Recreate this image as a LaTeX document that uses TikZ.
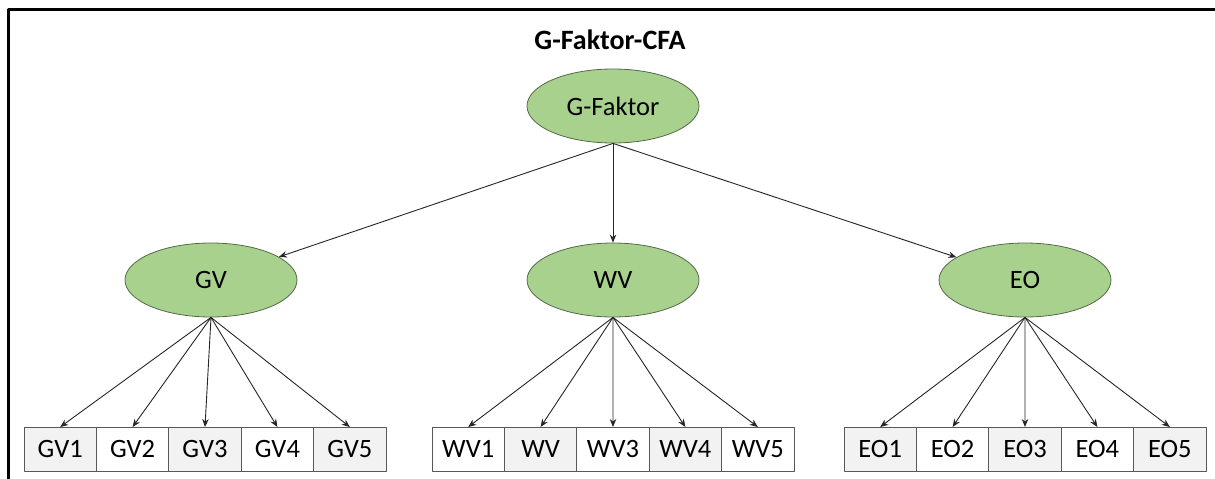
\documentclass[tikz,border=0pt]{standalone}
\usepackage{fontspec}
\setmainfont{Carlito}
\usetikzlibrary{positioning,shapes.geometric,arrows.meta}
\definecolor{faktorgreen}{RGB}{169,209,142}
\definecolor{faktorline}{RGB}{84,104,72}
\definecolor{itemgray}{RGB}{242,242,242}
\begin{document}
\begin{tikzpicture}[>={Stealth[length=8pt,width=6.5pt]},x=1pt,y=-1pt,line join=round,
    faktor/.style={ellipse,draw=faktorline,fill=faktorgreen,line width=0.8pt,minimum width=172pt,minimum height=74pt,inner sep=0pt,font=\fontsize{26.5}{30}\selectfont},
    item/.style={draw=black!65,line width=0.8pt,minimum width=72.4pt,minimum height=44pt,inner sep=0pt,outer sep=0pt,font=\fontsize{26.5}{30}\selectfont},
    pfeil/.style={->,draw=black!85,line width=0.9pt}]
  \useasboundingbox (0,0) rectangle (1215,479);
  \draw[line width=3pt] (8,479)--(8,9)--(1215,9);
  \node[font=\bfseries\fontsize{28}{32}\selectfont] (titel) at (610,40) {G-Faktor-CFA};
  \node[faktor] (G) at (613,106) {G-Faktor};
  \node[faktor] (GV) at (211,280) {GV};
  \node[faktor] (WV) at (613,280) {WV};
  \node[faktor] (EO) at (1025,280) {EO};
  % items
  \foreach \grp/\xa/\fa/\fb/\zwei in {GV/60.2/itemgray/white/GV2,WV/468.2/white/itemgray/WV,EO/880.2/itemgray/white/EO2}{
    \node[item,fill=\fa] (\grp1) at (\xa,449) {\grp1};
    \node[item,fill=\fb,right=0pt of \grp1] (\grp2) {\zwei};
    \node[item,fill=\fa,right=0pt of \grp2] (\grp3) {\grp3};
    \node[item,fill=\fb,right=0pt of \grp3] (\grp4) {\grp4};
    \node[item,fill=\fa,right=0pt of \grp4] (\grp5) {\grp5};
  }
  \foreach \grp in {GV,WV,EO}{
    \draw[pfeil] (G.south)--(\grp);
    \foreach \i in {1,...,5}
      \draw[pfeil] (\grp.south)--(\grp\i.north);
  }
\end{tikzpicture}
\end{document}
